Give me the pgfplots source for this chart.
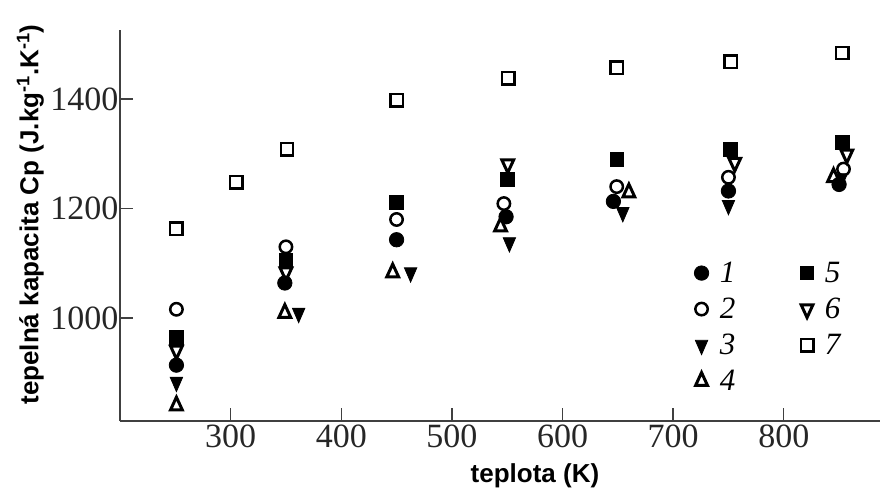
\documentclass[border=0pt]{standalone}
\usepackage{fontspec}
\setmainfont{Liberation Serif}
\newfontfamily\labelfont{Liberation Sans}
\usepackage{pgfplots}
\pgfplotsset{compat=1.18}
\begin{document}
\begin{tikzpicture}
\begin{axis}[
  scale only axis,
  width=760bp, height=391bp,
  xmin=200, xmax=887, ymin=812, ymax=1526,
  axis lines=left,
  axis line style={-, line width=1.3bp, black!75},
  tick style={line width=1.3bp, black!75},
  major tick length=13bp,
  tick align=inside,
  xtick={300,400,500,600,700,800},
  ytick={1000,1200,1400},
  /pgf/number format/assume math mode=true,
  /pgf/number format/1000 sep={},
  tick label style={font=\fontsize{34bp}{40bp}\selectfont, black!85},
  yticklabel style={xshift=2bp},
  xlabel={teplota (K)},
  ylabel={tepeln\'a kapacita Cp (J.kg\textsuperscript{-1}.K\textsuperscript{-1})},
  label style={font=\labelfont\bfseries\fontsize{26bp}{30bp}\selectfont},
  xlabel style={at={(axis description cs:0.546,-0.141)}, anchor=center},
  ylabel style={at={(axis description cs:-0.118,0.528)}, anchor=center},
  legend columns=2,
  legend cell align=left,
  legend style={at={(axis cs:719,1108)}, anchor=north west, draw=none, fill=none,
    inner sep=0pt, font=\itshape\fontsize{31bp}{34bp}\selectfont,
    nodes={inner sep=3bp}, row sep=8bp,
    /tikz/every odd column/.append style={column sep=8bp},
    /tikz/every even column/.append style={column sep=62bp}},
  clip=false,
]
% 1 filled circle
\addplot[only marks, mark=*, mark size=7.2bp, mark options={line width=0.8bp, draw=black, fill=black}]
coordinates {(251,914) (349,1064) (450,1143) (549,1185) (646,1213) (750,1232) (850,1244)};
\addlegendentry{1}
% 5 filled square
\addplot[only marks, mark=square*, mark size=6.8bp, mark options={line width=0.8bp, draw=black, fill=black}]
coordinates {(251,965) (350,1106) (450,1211) (550,1253) (649,1290) (752,1308) (853,1321)};
\addlegendentry{5}
% 2 open circle
\addplot[only marks, mark=o, mark size=6.2bp, mark options={line width=2.5bp, draw=black, fill=white}]
coordinates {(251,1016) (350,1130) (450,1180) (547,1209) (649,1240) (750,1257) (854,1272)};
\addlegendentry{2}
% 6 open down triangle
\addplot[only marks, mark=triangle, mark size=8.5bp, mark options={rotate=180, xscale=0.8, line width=3bp, draw=black, fill=white}]
coordinates {(251,941) (350,1084) (550.5,1281) (755.7,1284) (857,1299)};
\addlegendentry{6}
% 3 filled down triangle
\addplot[only marks, mark=triangle*, mark size=9.5bp, mark options={rotate=180, xscale=0.75, line width=0.8bp, draw=black, fill=black}]
coordinates {(251,883) (361.5,1009) (462.7,1083) (552,1138) (654.5,1193) (750,1206) (852,1255)};
\addlegendentry{3}
% 7 open square
\addplot[only marks, mark=square, mark size=6.2bp, mark options={line width=2.5bp, draw=black, fill=white}]
coordinates {(251,1163) (305,1248) (351,1308) (450,1398) (551,1438) (649,1457) (752,1468) (853,1484)};
\addlegendentry{7}
% 4 open up triangle
\addplot[only marks, mark=triangle, mark size=8.5bp, mark options={xscale=0.8, line width=3bp, draw=black, fill=white}]
coordinates {(251,840) (349,1009) (446.5,1083) (544,1167) (660,1229) (845,1257)};
\addlegendentry{4}
\end{axis}
\pgfresetboundingbox
\path ([shift={(-120bp,-67bp)}]current axis.south west) rectangle ([shift={(10bp,30bp)}]current axis.north east);
\end{tikzpicture}
\end{document}
